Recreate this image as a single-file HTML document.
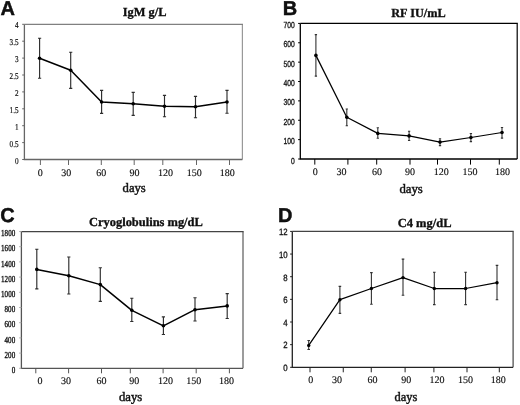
<!DOCTYPE html>
<html><head><meta charset="utf-8"><style>
html,body{margin:0;padding:0;background:#fff;width:520px;height:405px;overflow:hidden}
svg{display:block;will-change:transform}
text{fill:#111;text-rendering:geometricPrecision}
</style></head><body>
<svg width="520" height="405" viewBox="0 0 520 405">
<rect width="520" height="405" fill="#fff"/>
<text x="0.6" y="14.8" font-family='"Liberation Sans", sans-serif' font-weight="bold" font-size="20" stroke="#000" stroke-width="0.4">A</text>
<text x="122.8" y="16.2" font-family='"Liberation Serif", serif' font-weight="bold" font-size="12.4" stroke="#000" stroke-width="0.3" textLength="43.7" lengthAdjust="spacingAndGlyphs">IgM g/L</text>
<path d="M242.4 24.4V159.5" fill="none" stroke="#999" stroke-width="1.2"/>
<path d="M24.4 24.4H243" fill="none" stroke="#808080" stroke-width="1.2"/>
<path d="M24.4 24.4V159.5H242.4" fill="none" stroke="#666" stroke-width="1.3"/>
<path d="M22.2 159.5H24.4M22.2 142.6H24.4M22.2 125.7H24.4M22.2 108.8H24.4M22.2 91.9H24.4M22.2 75H24.4M22.2 58.1H24.4M22.2 41.2H24.4M22.2 24.3H24.4" stroke="#666" stroke-width="1"/>
<text x="18.6" y="163.6" text-anchor="end" font-family='"Liberation Serif", serif' font-size="9" stroke="#111" stroke-width="0.2" transform="translate(18.6 0) scale(0.8 1) translate(-18.6 0)">0</text>
<text x="18.6" y="146.7" text-anchor="end" font-family='"Liberation Serif", serif' font-size="9" stroke="#111" stroke-width="0.2" transform="translate(18.6 0) scale(0.8 1) translate(-18.6 0)">0.5</text>
<text x="18.6" y="129.8" text-anchor="end" font-family='"Liberation Serif", serif' font-size="9" stroke="#111" stroke-width="0.2" transform="translate(18.6 0) scale(0.8 1) translate(-18.6 0)">1</text>
<text x="18.6" y="112.9" text-anchor="end" font-family='"Liberation Serif", serif' font-size="9" stroke="#111" stroke-width="0.2" transform="translate(18.6 0) scale(0.8 1) translate(-18.6 0)">1.5</text>
<text x="18.6" y="96" text-anchor="end" font-family='"Liberation Serif", serif' font-size="9" stroke="#111" stroke-width="0.2" transform="translate(18.6 0) scale(0.8 1) translate(-18.6 0)">2</text>
<text x="18.6" y="79.1" text-anchor="end" font-family='"Liberation Serif", serif' font-size="9" stroke="#111" stroke-width="0.2" transform="translate(18.6 0) scale(0.8 1) translate(-18.6 0)">2.5</text>
<text x="18.6" y="62.2" text-anchor="end" font-family='"Liberation Serif", serif' font-size="9" stroke="#111" stroke-width="0.2" transform="translate(18.6 0) scale(0.8 1) translate(-18.6 0)">3</text>
<text x="18.6" y="45.3" text-anchor="end" font-family='"Liberation Serif", serif' font-size="9" stroke="#111" stroke-width="0.2" transform="translate(18.6 0) scale(0.8 1) translate(-18.6 0)">3.5</text>
<text x="18.6" y="28.4" text-anchor="end" font-family='"Liberation Serif", serif' font-size="9" stroke="#111" stroke-width="0.2" transform="translate(18.6 0) scale(0.8 1) translate(-18.6 0)">4</text>
<path d="M40.4 159.5V165M68.5 159.5V165M101.3 159.5V165M134.2 159.5V165M162.8 159.5V165M196.5 159.5V165M229.5 159.5V165" stroke="#666" stroke-width="1"/>
<text x="40.3" y="176" text-anchor="middle" font-family='"Liberation Serif", serif' font-size="10" stroke="#111" stroke-width="0.15">0</text>
<text x="66.3" y="176" text-anchor="middle" font-family='"Liberation Serif", serif' font-size="10" stroke="#111" stroke-width="0.15">30</text>
<text x="101.3" y="176" text-anchor="middle" font-family='"Liberation Serif", serif' font-size="10" stroke="#111" stroke-width="0.15">60</text>
<text x="134.5" y="176" text-anchor="middle" font-family='"Liberation Serif", serif' font-size="10" stroke="#111" stroke-width="0.15">90</text>
<text x="165.4" y="176" text-anchor="middle" font-family='"Liberation Serif", serif' font-size="10" stroke="#111" stroke-width="0.15">120</text>
<text x="194.2" y="176" text-anchor="middle" font-family='"Liberation Serif", serif' font-size="10" stroke="#111" stroke-width="0.15">150</text>
<text x="227.2" y="176" text-anchor="middle" font-family='"Liberation Serif", serif' font-size="10" stroke="#111" stroke-width="0.15">180</text>
<path d="M39.6 38.2V78.2M38 38.2H41.2M38 78.2H41.2M70.7 52.2V88.4M69.1 52.2H72.3M69.1 88.4H72.3M101.6 90.3V113.4M100 90.3H103.2M100 113.4H103.2M133.2 92.3V115.4M131.6 92.3H134.8M131.6 115.4H134.8M164.5 95.3V116.7M162.9 95.3H166.1M162.9 116.7H166.1M195.5 96.4V117.7M193.9 96.4H197.1M193.9 117.7H197.1M227 90.4V113.2M225.4 90.4H228.6M225.4 113.2H228.6" stroke="#2e2e2e" stroke-width="1.15" fill="none"/>
<polyline points="39.6,58.2 70.7,70.2 101.6,102 133.2,103.8 164.5,106.3 195.5,106.8 227,102" fill="none" stroke="#000" stroke-width="1.5" stroke-linejoin="round"/>
<circle cx="39.6" cy="58.2" r="1.8" fill="#000"/>
<circle cx="70.7" cy="70.2" r="1.8" fill="#000"/>
<circle cx="101.6" cy="102" r="1.8" fill="#000"/>
<circle cx="133.2" cy="103.8" r="1.8" fill="#000"/>
<circle cx="164.5" cy="106.3" r="1.8" fill="#000"/>
<circle cx="195.5" cy="106.8" r="1.8" fill="#000"/>
<circle cx="227" cy="102" r="1.8" fill="#000"/>
<text x="122.6" y="192.2" font-family='"Liberation Serif", serif' font-size="13" stroke="#111" stroke-width="0.45" textLength="23.2" lengthAdjust="spacingAndGlyphs">days</text>
<text x="282.7" y="15.3" font-family='"Liberation Sans", sans-serif' font-weight="bold" font-size="20" stroke="#000" stroke-width="0.4">B</text>
<text x="391.2" y="16.9" font-family='"Liberation Serif", serif' font-weight="bold" font-size="12.4" stroke="#000" stroke-width="0.3" textLength="54.5" lengthAdjust="spacingAndGlyphs">RF IU/mL</text>
<path d="M517.2 23.4V159" fill="none" stroke="#000" stroke-width="1.2"/>
<path d="M300.3 23.4H517.8" fill="none" stroke="#000" stroke-width="1.2"/>
<path d="M300.3 23.4V159H517.2" fill="none" stroke="#000" stroke-width="1.3"/>
<path d="M298.1 159H300.3M298.1 139.63H300.3M298.1 120.26H300.3M298.1 100.89H300.3M298.1 81.52H300.3M298.1 62.15H300.3M298.1 42.78H300.3M298.1 23.41H300.3" stroke="#000" stroke-width="1"/>
<text x="294.9" y="163.5" text-anchor="end" font-family='"Liberation Sans", sans-serif' font-size="8.8" stroke="#111" stroke-width="0.3" transform="translate(294.9 0) scale(0.77 1) translate(-294.9 0)">0</text>
<text x="294.9" y="144.13" text-anchor="end" font-family='"Liberation Sans", sans-serif' font-size="8.8" stroke="#111" stroke-width="0.3" transform="translate(294.9 0) scale(0.77 1) translate(-294.9 0)">100</text>
<text x="294.9" y="124.76" text-anchor="end" font-family='"Liberation Sans", sans-serif' font-size="8.8" stroke="#111" stroke-width="0.3" transform="translate(294.9 0) scale(0.77 1) translate(-294.9 0)">200</text>
<text x="294.9" y="105.39" text-anchor="end" font-family='"Liberation Sans", sans-serif' font-size="8.8" stroke="#111" stroke-width="0.3" transform="translate(294.9 0) scale(0.77 1) translate(-294.9 0)">300</text>
<text x="294.9" y="86.02" text-anchor="end" font-family='"Liberation Sans", sans-serif' font-size="8.8" stroke="#111" stroke-width="0.3" transform="translate(294.9 0) scale(0.77 1) translate(-294.9 0)">400</text>
<text x="294.9" y="66.65" text-anchor="end" font-family='"Liberation Sans", sans-serif' font-size="8.8" stroke="#111" stroke-width="0.3" transform="translate(294.9 0) scale(0.77 1) translate(-294.9 0)">500</text>
<text x="294.9" y="47.28" text-anchor="end" font-family='"Liberation Sans", sans-serif' font-size="8.8" stroke="#111" stroke-width="0.3" transform="translate(294.9 0) scale(0.77 1) translate(-294.9 0)">600</text>
<text x="294.9" y="27.91" text-anchor="end" font-family='"Liberation Sans", sans-serif' font-size="8.8" stroke="#111" stroke-width="0.3" transform="translate(294.9 0) scale(0.77 1) translate(-294.9 0)">700</text>
<path d="M314.8 159V164.6M347.9 159V164.6M376.7 159V164.6M410 159V164.6M437.5 159V164.6M470.5 159V164.6M499.3 159V164.6" stroke="#000" stroke-width="1"/>
<text x="315.2" y="174.5" text-anchor="middle" font-family='"Liberation Serif", serif' font-size="10" stroke="#111" stroke-width="0.15">0</text>
<text x="341.5" y="174.5" text-anchor="middle" font-family='"Liberation Serif", serif' font-size="10" stroke="#111" stroke-width="0.15">30</text>
<text x="377" y="174.5" text-anchor="middle" font-family='"Liberation Serif", serif' font-size="10" stroke="#111" stroke-width="0.15">60</text>
<text x="410" y="174.5" text-anchor="middle" font-family='"Liberation Serif", serif' font-size="10" stroke="#111" stroke-width="0.15">90</text>
<text x="441.25" y="174.5" text-anchor="middle" font-family='"Liberation Serif", serif' font-size="10" stroke="#111" stroke-width="0.15">120</text>
<text x="470" y="174.5" text-anchor="middle" font-family='"Liberation Serif", serif' font-size="10" stroke="#111" stroke-width="0.15">150</text>
<text x="502.5" y="174.5" text-anchor="middle" font-family='"Liberation Serif", serif' font-size="10" stroke="#111" stroke-width="0.15">180</text>
<path d="M315.9 34.6V76.1M314.75 34.6H317.05M314.75 76.1H317.05M346.8 109V125.7M345.65 109H347.95M345.65 125.7H347.95M377.8 127.7V138.3M376.65 127.7H378.95M376.65 138.3H378.95M409.1 131.3V140.5M407.95 131.3H410.25M407.95 140.5H410.25M440 138.7V145.6M438.85 138.7H441.15M438.85 145.6H441.15M470.9 133.5V141.6M469.75 133.5H472.05M469.75 141.6H472.05M502 127.5V138.1M500.85 127.5H503.15M500.85 138.1H503.15" stroke="#333" stroke-width="1.1" fill="none"/>
<polyline points="315.9,55.4 346.8,117.3 377.8,133.4 409.1,135.9 440,142.1 470.9,137.5 502,132.5" fill="none" stroke="#000" stroke-width="1.25" stroke-linejoin="round"/>
<circle cx="315.9" cy="55.4" r="1.8" fill="#000"/>
<circle cx="346.8" cy="117.3" r="1.8" fill="#000"/>
<circle cx="377.8" cy="133.4" r="1.8" fill="#000"/>
<circle cx="409.1" cy="135.9" r="1.8" fill="#000"/>
<circle cx="440" cy="142.1" r="1.8" fill="#000"/>
<circle cx="470.9" cy="137.5" r="1.8" fill="#000"/>
<circle cx="502" cy="132.5" r="1.8" fill="#000"/>
<text x="399.4" y="192.5" font-family='"Liberation Serif", serif' font-size="13" stroke="#111" stroke-width="0.45" textLength="23.4" lengthAdjust="spacingAndGlyphs">days</text>
<text x="0.2" y="221.5" font-family='"Liberation Sans", sans-serif' font-weight="bold" font-size="20" stroke="#000" stroke-width="0.4">C</text>
<text x="89" y="225.6" font-family='"Liberation Serif", serif' font-weight="bold" font-size="12.4" stroke="#000" stroke-width="0.3" textLength="113.8" lengthAdjust="spacingAndGlyphs">Cryoglobulins mg/dL</text>
<path d="M243 231.6V368.3" fill="none" stroke="#5a5a5a" stroke-width="1.2"/>
<path d="M21.4 231.6H243.6" fill="none" stroke="#444" stroke-width="1.2"/>
<path d="M21.4 231.6V368.3H243" fill="none" stroke="#555" stroke-width="1.3"/>
<path d="M19.2 368.3H21.4M19.2 353.1H21.4M19.2 337.9H21.4M19.2 322.7H21.4M19.2 307.5H21.4M19.2 292.3H21.4M19.2 277.1H21.4M19.2 261.9H21.4M19.2 246.7H21.4M19.2 231.5H21.4" stroke="#aaa" stroke-width="1"/>
<text x="15.2" y="372.9" text-anchor="end" font-family='"Liberation Serif", serif' font-size="9.2" stroke="#111" stroke-width="0.35" transform="translate(15.2 0) scale(0.77 1) translate(-15.2 0)">0</text>
<text x="15.2" y="357.7" text-anchor="end" font-family='"Liberation Serif", serif' font-size="9.2" stroke="#111" stroke-width="0.35" transform="translate(15.2 0) scale(0.77 1) translate(-15.2 0)">200</text>
<text x="15.2" y="342.5" text-anchor="end" font-family='"Liberation Serif", serif' font-size="9.2" stroke="#111" stroke-width="0.35" transform="translate(15.2 0) scale(0.77 1) translate(-15.2 0)">400</text>
<text x="15.2" y="327.3" text-anchor="end" font-family='"Liberation Serif", serif' font-size="9.2" stroke="#111" stroke-width="0.35" transform="translate(15.2 0) scale(0.77 1) translate(-15.2 0)">600</text>
<text x="15.2" y="312.1" text-anchor="end" font-family='"Liberation Serif", serif' font-size="9.2" stroke="#111" stroke-width="0.35" transform="translate(15.2 0) scale(0.77 1) translate(-15.2 0)">800</text>
<text x="15.2" y="296.9" text-anchor="end" font-family='"Liberation Serif", serif' font-size="9.2" stroke="#111" stroke-width="0.35" transform="translate(15.2 0) scale(0.77 1) translate(-15.2 0)">1000</text>
<text x="15.2" y="281.7" text-anchor="end" font-family='"Liberation Serif", serif' font-size="9.2" stroke="#111" stroke-width="0.35" transform="translate(15.2 0) scale(0.77 1) translate(-15.2 0)">1200</text>
<text x="15.2" y="266.5" text-anchor="end" font-family='"Liberation Serif", serif' font-size="9.2" stroke="#111" stroke-width="0.35" transform="translate(15.2 0) scale(0.77 1) translate(-15.2 0)">1400</text>
<text x="15.2" y="251.3" text-anchor="end" font-family='"Liberation Serif", serif' font-size="9.2" stroke="#111" stroke-width="0.35" transform="translate(15.2 0) scale(0.77 1) translate(-15.2 0)">1600</text>
<text x="15.2" y="236.1" text-anchor="end" font-family='"Liberation Serif", serif' font-size="9.2" stroke="#111" stroke-width="0.35" transform="translate(15.2 0) scale(0.77 1) translate(-15.2 0)">1800</text>
<path d="M35.8 368.3V373.3M68.6 368.3V373.3M101.5 368.3V373.3M130.3 368.3V373.3M163.1 368.3V373.3M196.2 368.3V373.3M229.4 368.3V373.3" stroke="#555" stroke-width="1"/>
<text x="40.1" y="383.7" text-anchor="middle" font-family='"Liberation Serif", serif' font-size="10" stroke="#111" stroke-width="0.15">0</text>
<text x="66" y="383.7" text-anchor="middle" font-family='"Liberation Serif", serif' font-size="10" stroke="#111" stroke-width="0.15">30</text>
<text x="101.4" y="383.7" text-anchor="middle" font-family='"Liberation Serif", serif' font-size="10" stroke="#111" stroke-width="0.15">60</text>
<text x="134.3" y="383.7" text-anchor="middle" font-family='"Liberation Serif", serif' font-size="10" stroke="#111" stroke-width="0.15">90</text>
<text x="165.4" y="383.7" text-anchor="middle" font-family='"Liberation Serif", serif' font-size="10" stroke="#111" stroke-width="0.15">120</text>
<text x="193.8" y="383.7" text-anchor="middle" font-family='"Liberation Serif", serif' font-size="10" stroke="#111" stroke-width="0.15">150</text>
<text x="226.6" y="383.7" text-anchor="middle" font-family='"Liberation Serif", serif' font-size="10" stroke="#111" stroke-width="0.15">180</text>
<path d="M36.8 249.2V288.8M35.2 249.2H38.4M35.2 288.8H38.4M68.8 257V294M67.2 257H70.4M67.2 294H70.4M100.3 267.7V301.4M98.7 267.7H101.9M98.7 301.4H101.9M131.8 298.2V321.5M130.2 298.2H133.4M130.2 321.5H133.4M163.4 316.9V334.5M161.8 316.9H165M161.8 334.5H165M195 297.7V321M193.4 297.7H196.6M193.4 321H196.6M227.2 293.6V318.5M225.6 293.6H228.8M225.6 318.5H228.8" stroke="#2e2e2e" stroke-width="1.15" fill="none"/>
<polyline points="36.8,269.4 68.8,275.8 100.3,284.6 131.8,310.3 163.4,325.8 195,309.7 227.2,305.9" fill="none" stroke="#000" stroke-width="1.5" stroke-linejoin="round"/>
<circle cx="36.8" cy="269.4" r="1.8" fill="#000"/>
<circle cx="68.8" cy="275.8" r="1.8" fill="#000"/>
<circle cx="100.3" cy="284.6" r="1.8" fill="#000"/>
<circle cx="131.8" cy="310.3" r="1.8" fill="#000"/>
<circle cx="163.4" cy="325.8" r="1.8" fill="#000"/>
<circle cx="195" cy="309.7" r="1.8" fill="#000"/>
<circle cx="227.2" cy="305.9" r="1.8" fill="#000"/>
<text x="118.9" y="400.8" font-family='"Liberation Serif", serif' font-size="13" stroke="#111" stroke-width="0.45" textLength="23.4" lengthAdjust="spacingAndGlyphs">days</text>
<text x="278" y="221.9" font-family='"Liberation Sans", sans-serif' font-weight="bold" font-size="20" stroke="#000" stroke-width="0.4">D</text>
<text x="397.7" y="227.3" font-family='"Liberation Serif", serif' font-weight="bold" font-size="12.4" stroke="#000" stroke-width="0.3" textLength="53.8" lengthAdjust="spacingAndGlyphs">C4 mg/dL</text>
<path d="M513.1 231.4V367.3" fill="none" stroke="#444" stroke-width="1.2"/>
<path d="M292.3 231.4H513.7" fill="none" stroke="#444" stroke-width="1.2"/>
<path d="M292.3 231.4V367.3H513.1" fill="none" stroke="#222" stroke-width="1.3"/>
<path d="M290.1 367.3H292.3M290.1 344.65H292.3M290.1 322H292.3M290.1 299.35H292.3M290.1 276.7H292.3M290.1 254.05H292.3M290.1 231.4H292.3" stroke="#222" stroke-width="1"/>
<text x="287.6" y="371.1" text-anchor="end" font-family='"Liberation Sans", sans-serif' font-size="9.2" stroke="#111" stroke-width="0.3" transform="translate(287.6 0) scale(0.85 1) translate(-287.6 0)">0</text>
<text x="287.6" y="348.45" text-anchor="end" font-family='"Liberation Sans", sans-serif' font-size="9.2" stroke="#111" stroke-width="0.3" transform="translate(287.6 0) scale(0.85 1) translate(-287.6 0)">2</text>
<text x="287.6" y="325.8" text-anchor="end" font-family='"Liberation Sans", sans-serif' font-size="9.2" stroke="#111" stroke-width="0.3" transform="translate(287.6 0) scale(0.85 1) translate(-287.6 0)">4</text>
<text x="287.6" y="303.15" text-anchor="end" font-family='"Liberation Sans", sans-serif' font-size="9.2" stroke="#111" stroke-width="0.3" transform="translate(287.6 0) scale(0.85 1) translate(-287.6 0)">6</text>
<text x="287.6" y="280.5" text-anchor="end" font-family='"Liberation Sans", sans-serif' font-size="9.2" stroke="#111" stroke-width="0.3" transform="translate(287.6 0) scale(0.85 1) translate(-287.6 0)">8</text>
<text x="287.6" y="257.85" text-anchor="end" font-family='"Liberation Sans", sans-serif' font-size="9.2" stroke="#111" stroke-width="0.3" transform="translate(287.6 0) scale(0.85 1) translate(-287.6 0)">10</text>
<text x="287.6" y="235.2" text-anchor="end" font-family='"Liberation Sans", sans-serif' font-size="9.2" stroke="#111" stroke-width="0.3" transform="translate(287.6 0) scale(0.85 1) translate(-287.6 0)">12</text>
<path d="M310 367.3V372.3M343.25 367.3V372.3M371.25 367.3V372.3M405.1 367.3V372.3M433.9 367.3V372.3M467 367.3V372.3M499.3 367.3V372.3" stroke="#222" stroke-width="1"/>
<text x="310.75" y="383.3" text-anchor="middle" font-family='"Liberation Serif", serif' font-size="10" stroke="#111" stroke-width="0.15">0</text>
<text x="337" y="383.3" text-anchor="middle" font-family='"Liberation Serif", serif' font-size="10" stroke="#111" stroke-width="0.15">30</text>
<text x="372.5" y="383.3" text-anchor="middle" font-family='"Liberation Serif", serif' font-size="10" stroke="#111" stroke-width="0.15">60</text>
<text x="406.25" y="383.3" text-anchor="middle" font-family='"Liberation Serif", serif' font-size="10" stroke="#111" stroke-width="0.15">90</text>
<text x="437" y="383.3" text-anchor="middle" font-family='"Liberation Serif", serif' font-size="10" stroke="#111" stroke-width="0.15">120</text>
<text x="465.4" y="383.3" text-anchor="middle" font-family='"Liberation Serif", serif' font-size="10" stroke="#111" stroke-width="0.15">150</text>
<text x="498.2" y="383.3" text-anchor="middle" font-family='"Liberation Serif", serif' font-size="10" stroke="#111" stroke-width="0.15">180</text>
<path d="M308.7 340.5V349.5M307.4 340.5H310M307.4 349.5H310M339.9 286.4V313.4M338.6 286.4H341.2M338.6 313.4H341.2M371.4 272.6V304.3M370.1 272.6H372.7M370.1 304.3H372.7M403 259.1V295.3M401.7 259.1H404.3M401.7 295.3H404.3M434.3 272.2V304.6M433 272.2H435.6M433 304.6H435.6M465.6 272.2V304.6M464.3 272.2H466.9M464.3 304.6H466.9M497 265.4V299.7M495.7 265.4H498.3M495.7 299.7H498.3" stroke="#333" stroke-width="1.1" fill="none"/>
<polyline points="308.7,345.4 339.9,299.7 371.4,288.5 403,277.6 434.3,288.5 465.6,288.5 497,282.7" fill="none" stroke="#000" stroke-width="1.25" stroke-linejoin="round"/>
<circle cx="308.7" cy="345.4" r="1.7" fill="#000"/>
<circle cx="339.9" cy="299.7" r="1.7" fill="#000"/>
<circle cx="371.4" cy="288.5" r="1.7" fill="#000"/>
<circle cx="403" cy="277.6" r="1.7" fill="#000"/>
<circle cx="434.3" cy="288.5" r="1.7" fill="#000"/>
<circle cx="465.6" cy="288.5" r="1.7" fill="#000"/>
<circle cx="497" cy="282.7" r="1.7" fill="#000"/>
<text x="394.5" y="401" font-family='"Liberation Serif", serif' font-size="13" stroke="#111" stroke-width="0.45" textLength="22.8" lengthAdjust="spacingAndGlyphs">days</text>
</svg>
</body></html>
